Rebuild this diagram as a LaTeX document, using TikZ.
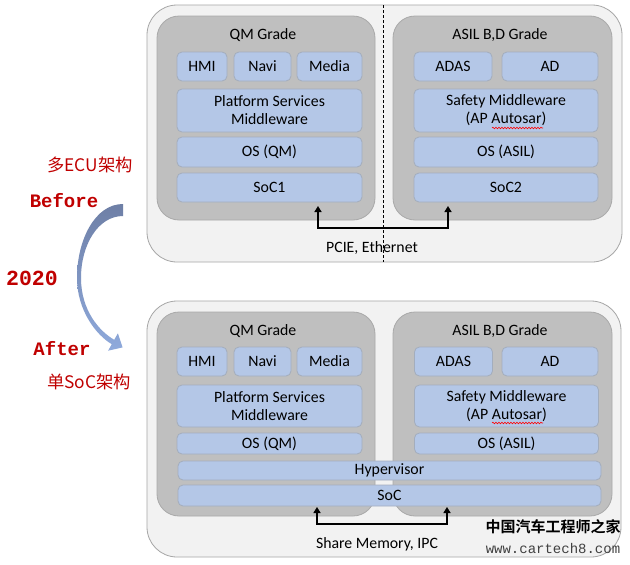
\documentclass[tikz,border=0pt]{standalone}
\usepackage{fontspec}
\setmainfont{Carlito}
\newfontfamily\cjkfont{Noto Sans CJK SC}
\newfontfamily\cjkbold{Noto Sans CJK SC Bold}
\newfontfamily\monofont{Liberation Mono}
\usetikzlibrary{arrows.meta,decorations.pathmorphing}
\definecolor{outerfill}{HTML}{F2F2F2}
\definecolor{outerdraw}{HTML}{A6A6A6}
\definecolor{grayfill}{HTML}{BFBFBF}
\definecolor{graydraw}{HTML}{A9A9A9}
\definecolor{bluefill}{HTML}{B4C7E7}
\definecolor{bluedraw}{HTML}{A3ADBD}
\definecolor{redtxt}{HTML}{C00000}
\definecolor{arrtop}{HTML}{6E7FA6}
\definecolor{arrbot}{HTML}{8FAADC}
\definecolor{wmgray}{HTML}{404040}
\tikzset{
  outerbox/.style={draw=outerdraw,fill=outerfill,line width=0.8pt,rounded corners=30pt,inner sep=0pt,outer sep=0pt},
  graybox/.style={draw=graydraw,fill=grayfill,line width=0.8pt,rounded corners=22pt,inner sep=0pt,outer sep=0pt},
  bluebox/.style={draw=bluedraw,fill=bluefill,line width=0.8pt,rounded corners=5pt,inner sep=0pt,outer sep=0pt,
    align=center,font=\fontsize{15.8}{18}\selectfont},
  title/.style={font=\fontsize{15.8}{18}\selectfont,inner sep=0pt},
  conn/.style={line width=2pt,{Triangle[width=7pt,length=6pt]}-{Triangle[width=7pt,length=6pt]}},
  redcjk/.style={text=redtxt,font=\cjkfont\fontsize{17.3}{19}\selectfont,inner sep=0pt},
  redmono/.style={text=redtxt,font=\monofont\bfseries\fontsize{19}{20}\selectfont,inner sep=0pt},
  redmonobig/.style={text=redtxt,font=\monofont\bfseries\fontsize{21.5}{22}\selectfont,inner sep=0pt},
  squig/.style={draw=red,line width=0.6pt,decorate,decoration={snake,segment length=3pt,amplitude=0.8pt}},
}
\begin{document}
\begin{tikzpicture}[x=1pt,y=-1pt]
\useasboundingbox (0,0) rectangle (630,565);
\fill[white] (0,0) rectangle (630,565);

% ===== TOP (Before) =====
\node[outerbox,minimum width=475pt,minimum height=257pt] (outer1) at (384.5,133.5) {};
\draw[line width=0.8pt,dash pattern=on 3pt off 2pt] ([xshift=-1.5pt]outer1.north) -- ([xshift=-1.5pt]outer1.south);
\node[graybox,minimum width=218pt,minimum height=204pt] (qm1) at (266,118) {};
\node[graybox,minimum width=219pt,minimum height=204pt] (as1) at (502.5,118) {};
\node[title] (qmt1) at (263,35.5) {QM Grade};
\node[title] (ast1) at (500,35.5) {ASIL B,D Grade};
\node[bluebox,minimum width=50pt,minimum height=29pt] (hmi1) at (202,66.5) {HMI};
\node[bluebox,minimum width=57pt,minimum height=29pt] (navi1) at (262.5,66.5) {Navi};
\node[bluebox,minimum width=65pt,minimum height=29pt] (media1) at (329.5,66.5) {Media};
\node[bluebox,minimum width=185pt,minimum height=43pt] (plat1) at (269.5,110.5) {Platform Services\\Middleware};
\node[bluebox,minimum width=185pt,minimum height=30pt] (osqm1) at (269.5,152) {OS (QM)};
\node[bluebox,minimum width=185pt,minimum height=29pt] (soc1) at (269.5,187.5) {SoC1};
\node[bluebox,minimum width=78pt,minimum height=29pt] (adas1) at (453,66.5) {ADAS};
\node[bluebox,minimum width=96pt,minimum height=29pt] (ad1) at (550,66.5) {AD};
\node[bluebox,minimum width=184pt,minimum height=43pt] (safe1) at (506,110.5) {Safety Middleware\\(AP Autosar)};
\node[bluebox,minimum width=184pt,minimum height=30pt] (osas1) at (506,152) {OS (ASIL)};
\node[bluebox,minimum width=184pt,minimum height=29pt] (soc2) at (506,187.5) {SoC2};
\draw[squig] ([xshift=-14pt,yshift=-17.5pt]safe1.center) -- ([xshift=37pt,yshift=-17.5pt]safe1.center);
\coordinate (a1) at ([xshift=48.5pt,yshift=-4pt]soc1.south);
\coordinate (b1) at ([xshift=-58pt,yshift=-4pt]soc2.south);
\coordinate (m1) at ([yshift=-22pt]a1);
\draw[conn] (a1) -- (m1) -| (b1);
\node[title] (pcie) at (372,248) {PCIE, Ethernet};

% ===== BOTTOM (After) =====
\node[outerbox,minimum width=474pt,minimum height=256pt] (outer2) at (384,429) {};
\node[graybox,minimum width=218pt,minimum height=204pt] (qm2) at (266,414) {};
\node[graybox,minimum width=219pt,minimum height=204pt] (as2) at (502.5,414) {};
\node[title] (qmt2) at (263,331) {QM Grade};
\node[title] (ast2) at (500,331) {ASIL B,D Grade};
\node[bluebox,minimum width=50pt,minimum height=29pt] (hmi2) at (202,361.5) {HMI};
\node[bluebox,minimum width=57pt,minimum height=29pt] (navi2) at (262.5,361.5) {Navi};
\node[bluebox,minimum width=65pt,minimum height=29pt] (media2) at (329.5,361.5) {Media};
\node[bluebox,minimum width=185pt,minimum height=42pt] (plat2) at (269.5,406) {Platform Services\\Middleware};
\node[bluebox,minimum width=185pt,minimum height=21pt] (osqm2) at (269.5,443.5) {OS (QM)};
\node[bluebox,minimum width=78pt,minimum height=29pt] (adas2) at (453.5,361.5) {ADAS};
\node[bluebox,minimum width=96pt,minimum height=29pt] (ad2) at (550,361.5) {AD};
\node[bluebox,minimum width=184pt,minimum height=42pt] (safe2) at (506.5,406) {Safety Middleware\\(AP Autosar)};
\node[bluebox,minimum width=184pt,minimum height=21pt] (osas2) at (506.5,443.5) {OS (ASIL)};
\node[bluebox,minimum width=423pt,minimum height=19pt] (hyp) at (389.5,470.5) {Hypervisor};
\node[bluebox,minimum width=423pt,minimum height=21pt] (soc) at (389.5,495.5) {SoC};
\draw[squig] ([xshift=-14.5pt,yshift=-17pt]safe2.center) -- ([xshift=36.5pt,yshift=-17pt]safe2.center);
\coordinate (a2) at ([xshift=-72.5pt,yshift=-1pt]soc.south);
\coordinate (b2) at ([xshift=57.5pt,yshift=-1pt]soc.south);
\coordinate (m2) at ([yshift=-17pt]a2);
\draw[conn] (a2) -- (m2) -| (b2);
\node[title] (share) at (377,544) {Share Memory, IPC};

% watermark
\node[inner sep=0pt,font=\cjkbold\fontsize{15}{16}\selectfont] (wm1) at (553,527) {中国汽车工程师之家};
\node[inner sep=0pt,text=wmgray,font=\monofont\fontsize{14}{15}\selectfont] (wm2) at (553,548) {www.cartech8.com};

% ===== LEFT side =====
\node[redcjk] (duo) at (90,165) {多ECU架构};
\node[redmono] (before) at (64,201) {Before};
\node[redmonobig] (y2020) at (32,278) {2020};
\node[redmono] (after) at (62,349) {After};
\node[redcjk] (dan) at (89,382) {单SoC架构};
\shade[top color=arrtop,bottom color=arrbot]
  (123,204) .. controls (95,204) and (77,240) .. (77,278)
  .. controls (77,310) and (96,335) .. (111.8,344.2)
  -- (108.1,350.7) -- (122.6,347.4) -- (117.9,333.3) -- (114.2,339.8)
  .. controls (99,331) and (81,310) .. (81,278)
  .. controls (81,245) and (98,216) .. (123,216) -- cycle;
\end{tikzpicture}
\end{document}
